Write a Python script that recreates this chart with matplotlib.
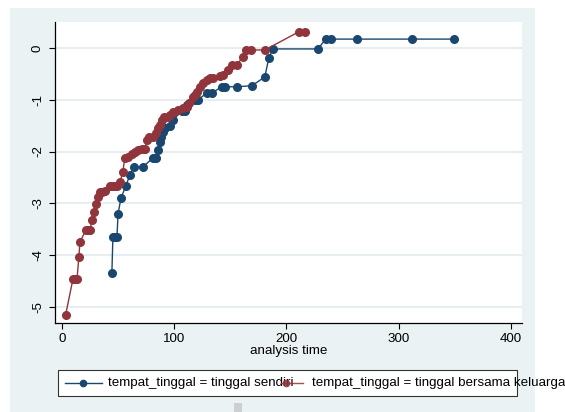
"""Log-log survival plot by living arrangement (tempat_tinggal)."""

import matplotlib

matplotlib.use("Agg")
import matplotlib.pyplot as plt
from matplotlib.lines import Line2D
from matplotlib.patches import Rectangle

# -ln(-ln S(t)) against analysis time, one series per group
SENDIRI_TIME = [
    44.5, 45.4, 47.2, 49.0, 50.0, 52.6, 57.0, 60.6, 64.1, 72.2,
    81.1, 83.7, 85.5, 87.3, 88.2, 90.0, 91.8, 96.2, 98.9, 106.9,
    109.6, 111.4, 118.5, 121.2, 129.2, 133.6, 142.5, 145.2, 155.9, 169.3,
    180.8, 184.4, 188.0, 228.0, 235.2, 239.6, 262.8, 311.8, 349.2,
]
SENDIRI_LNLN = [
    -4.34, -3.65, -3.65, -3.65, -3.20, -2.90, -2.66, -2.45, -2.30, -2.30,
    -2.12, -2.12, -1.97, -1.81, -1.72, -1.62, -1.54, -1.51, -1.39, -1.22,
    -1.22, -1.10, -1.00, -1.00, -0.87, -0.87, -0.75, -0.75, -0.75, -0.73,
    -0.56, -0.19, -0.02, -0.02, 0.17, 0.17, 0.17, 0.17, 0.17,
]

KELUARGA_TIME = [
    3.3, 9.8, 11.6, 13.4, 15.1, 16.0, 21.4, 23.2, 25.0, 26.7,
    28.5, 30.3, 32.0, 33.9, 35.6, 38.3, 42.8, 45.4, 47.2, 49.0,
    51.7, 54.3, 56.0, 58.8, 62.4, 65.0, 67.7, 71.3, 73.9, 75.7,
    77.5, 81.0, 83.7, 85.5, 87.3, 89.0, 90.9, 94.4, 96.2, 98.9,
    103.3, 107.8, 111.4, 113.1, 116.7, 118.5, 120.3, 122.9, 125.6, 129.2,
    131.8, 134.5, 140.8, 143.4, 147.9, 151.4, 155.9, 161.2, 163.9, 168.4,
    180.8, 211.1, 216.5,
]
KELUARGA_LNLN = [
    -5.15, -4.46, -4.46, -4.46, -4.03, -3.75, -3.51, -3.51, -3.51, -3.32,
    -3.17, -3.01, -2.88, -2.78, -2.78, -2.76, -2.66, -2.66, -2.66, -2.66,
    -2.59, -2.39, -2.12, -2.10, -2.05, -2.01, -1.97, -1.95, -1.95, -1.78,
    -1.72, -1.72, -1.64, -1.54, -1.49, -1.39, -1.33, -1.33, -1.29, -1.24,
    -1.20, -1.16, -1.14, -1.06, -0.95, -0.91, -0.85, -0.75, -0.68, -0.62,
    -0.58, -0.58, -0.54, -0.52, -0.42, -0.33, -0.33, -0.17, -0.04, -0.04,
    -0.04, 0.31, 0.31,
]

X_TICKS = [0, 100, 200, 300, 400]
Y_TICKS = [0, -1, -2, -3, -4, -5]
LABELS = [
    "tempat_tinggal = tinggal sendiri",
    "tempat_tinggal = tinggal bersama keluarga",
]

NAVY = "#1a476f"
MAROON = "#90353b"
BG = "#eaf2f3"

W, H = 565, 412


def fx(px):
    return px / W


def fy(py):
    return 1 - py / H


plt.rcParams.update(
    {
        "font.family": ["Liberation Sans", "DejaVu Sans"],
        "font.size": 9.6,
        "axes.linewidth": 0.9,
        "xtick.major.size": 4,
        "ytick.major.size": 4,
        "xtick.major.width": 0.8,
        "ytick.major.width": 0.8,
    }
)

fig = plt.figure(figsize=(W / 100, H / 100), dpi=100)
fig.patch.set_facecolor("white")
# graph region
fig.patches.append(
    Rectangle((fx(10), 0), fx(535) - fx(10), fy(8), transform=fig.transFigure,
              facecolor=BG, edgecolor="none", zorder=-2)
)
fig.patches.append(
    Rectangle((fx(234), 0), fx(8), fy(403), transform=fig.transFigure,
              facecolor="#cdd0d1", edgecolor="none", zorder=-1)
)

ax = fig.add_axes([fx(55), fy(323), fx(522) - fx(55), fy(22) - fy(323)])
ax.set_zorder(1)
ax.set_facecolor("white")
ax.set_xlim(-6.2, 410)
ax.set_ylim(-5.31, 0.50)

for sp in ("top", "right"):
    ax.spines[sp].set_visible(False)

ax.set_yticks(Y_TICKS)
ax.set_yticklabels([str(v) for v in Y_TICKS], rotation=90, va="center")
ax.set_xticks(X_TICKS)
ax.grid(True, axis="y", color="#e4edf0", linewidth=1.3)
ax.set_axisbelow(True)
ax.tick_params(axis="y", pad=4)
ax.tick_params(axis="x", pad=3)
ax.set_xlabel("analysis time", labelpad=0)

mk = dict(marker="o", markersize=5.5, linewidth=1.0)
ax.plot(SENDIRI_TIME, SENDIRI_LNLN, color=NAVY, zorder=3, clip_on=False, **mk)
ax.plot(KELUARGA_TIME, KELUARGA_LNLN, color=MAROON, zorder=3, clip_on=False, **mk)

# legend box, drawn by hand so the long label can run past the frame
fig.patches.append(
    Rectangle((fx(58), fy(396)), fx(517) - fx(58), fy(370) - fy(396),
              transform=fig.transFigure, facecolor="white", edgecolor="#333333",
              linewidth=0.8, zorder=2)
)
ly = fy(383)
fig.text(fx(108), ly, LABELS[0], va="center", ha="left", zorder=3)
fig.text(fx(312), ly, LABELS[1], va="center", ha="left", zorder=3)
fig.lines.append(Line2D([fx(65), fx(102)], [ly, ly], transform=fig.transFigure,
                        color=NAVY, linewidth=1.0, zorder=4))
fig.lines.append(Line2D([fx(83)], [ly], transform=fig.transFigure, color=NAVY,
                        marker="o", markersize=4.5, zorder=4))
fig.lines.append(Line2D([fx(281), fx(303)], [ly, ly], transform=fig.transFigure,
                        color=MAROON, linewidth=1.0, alpha=0.85, zorder=4))
fig.lines.append(Line2D([fx(286)], [ly], transform=fig.transFigure, color=MAROON,
                        marker="o", markersize=4.5, alpha=0.85, zorder=4))

fig.savefig("out.png", dpi=100)
